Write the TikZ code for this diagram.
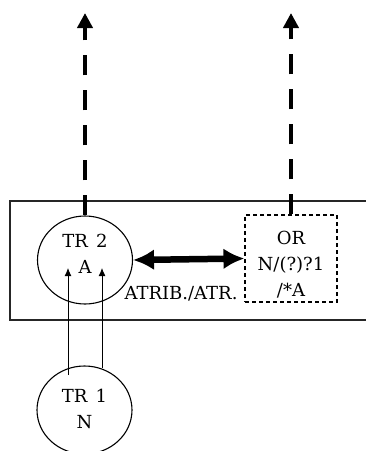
\documentclass[tikz,border=0pt]{standalone}
\usepackage{fontspec}
\setmainfont{DejaVu Serif}
\usetikzlibrary{arrows.meta,shapes.geometric}
\begin{document}
\begin{tikzpicture}[x=1pt,y=-1pt,
  txt/.style={font=\fontsize{18}{26}\selectfont,align=center,inner sep=0pt},
  trnode/.style={draw,ellipse,line width=1.1pt,minimum width=95pt,minimum height=88pt},
  orbox/.style={draw,line width=1.1pt,dash pattern=on 4pt off 3pt,minimum width=92pt,minimum height=87pt},
  updash/.style={line width=4pt,dash pattern=on 20pt off 15pt,-{Triangle[length=15pt,width=15pt]}},
  thin/.style={line width=0.9pt,-{Latex[length=8pt,width=7pt]}},
  bigarrow/.style={line width=6.5pt,{Latex[length=21pt,width=21pt]}-{Latex[length=21pt,width=21pt]}}
]
\useasboundingbox (0,0) rectangle (366,451);
% frame
\draw[line width=1.3pt,black!85] (370,201) -- (10,201) -- (10,320) -- (370,320);
% nodes
\node[trnode,label={[txt,yshift=6pt]center:TR\hspace{0.45em}2\\A}] (tr2) at (85,260) {};
\node[orbox,label={[txt,yshift=-6.5pt]center:OR\\N/(?)?1\\/*A}] (or) at (291,258.5) {};
\node[trnode,minimum height=88pt,label={[txt,yshift=1pt]center:TR\hspace{0.45em}1\\N}] (tr1) at (84.5,410) {};
\node[txt] (lab) at (181,294) {ATRIB./ATR.};
% coordinates
\coordinate (t1) at (tr2.north |- 0,13);
\coordinate (t2) at (or.north |- 0,13);
\coordinate (a1s) at (68,375);
\coordinate (a1e) at (68,268);
\coordinate (a2s) at (102,368);
\coordinate (a2e) at (102,268);
% connectors
\draw[updash] (tr2.north) -- (t1);
\draw[updash] (or.north) -- (t2);
\draw[bigarrow] (tr2.east) -- (or.west);
\draw[thin] (a1s) -- (a1e);
\draw[thin] (a2s) -- (a2e);
\end{tikzpicture}
\end{document}
